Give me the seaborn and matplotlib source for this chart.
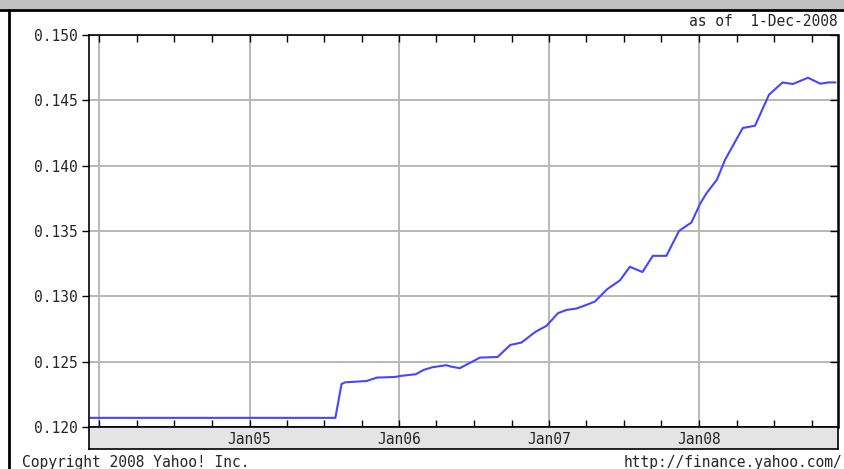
import matplotlib
matplotlib.use("Agg")
import matplotlib.pyplot as plt
import matplotlib.dates as mdates
import matplotlib.transforms as mtransforms
from matplotlib.lines import Line2D
from matplotlib.patches import Rectangle
import seaborn as sns
import pandas as pd
import numpy as np

# ---- data ----
dates = ["2003-12-07", "2005-07-29", "2005-08-13", "2005-08-22", "2005-10-13",
         "2005-11-07", "2005-12-22", "2006-01-04", "2006-02-10", "2006-03-01",
         "2006-03-22", "2006-04-25", "2006-05-07", "2006-05-28", "2006-07-16",
         "2006-08-28", "2006-09-28", "2006-10-25", "2006-11-28", "2006-12-25",
         "2007-01-22", "2007-02-12", "2007-03-07", "2007-03-22", "2007-04-22",
         "2007-05-22", "2007-06-22", "2007-07-16", "2007-08-16", "2007-09-10",
         "2007-10-13", "2007-11-13", "2007-12-13", "2008-01-04", "2008-01-19",
         "2008-02-13", "2008-03-04", "2008-03-22", "2008-04-16", "2008-05-16",
         "2008-06-19", "2008-07-22", "2008-08-16", "2008-09-22", "2008-10-22",
         "2008-11-10", "2008-11-28"]
values = [0.1207, 0.1207, 0.12329, 0.12342, 0.12352,
          0.12378, 0.12383, 0.12391, 0.12404, 0.12437,
          0.12457, 0.12473, 0.12462, 0.12450, 0.12531,
          0.12536, 0.12628, 0.12646, 0.12728, 0.12774,
          0.12871, 0.12896, 0.12906, 0.12922, 0.12960,
          0.13055, 0.13122, 0.13226, 0.13186, 0.13310,
          0.13310, 0.13501, 0.13565, 0.13713, 0.13790,
          0.13892, 0.14045, 0.14147, 0.14288, 0.14306,
          0.14543, 0.14637, 0.14625, 0.14673, 0.14627,
          0.14637, 0.14637]
y_ticks = [0.120, 0.125, 0.130, 0.135, 0.140, 0.145, 0.150]
year_labels = ["Jan05", "Jan06", "Jan07", "Jan08"]
year_label_dates = ["2005-01-01", "2006-01-01", "2007-01-01", "2008-01-01"]
x_start, x_end = "2003-12-07", "2008-12-04"
as_of_text = "as of  1-Dec-2008"
copyright_text = "Copyright 2008 Yahoo! Inc."
url_text = "http://finance.yahoo.com/"

df = pd.DataFrame({"date": pd.to_datetime(dates), "value": values})

sns.set_style("white")
plt.rcParams["font.family"] = ["DejaVu Sans Mono", "DejaVu Sans"]
FS = 10.5

W, H = 844, 469
fig = plt.figure(figsize=(W / 100, H / 100), dpi=100)
fig.patch.set_facecolor("white")

L, R, T, B = 89, 838, 35, 427
ax = fig.add_axes([L / W, 1 - B / H, (R - L) / W, (B - T) / H])
sns.lineplot(data=df, x="date", y="value", ax=ax, color="#4646ff", linewidth=1.5)

ax.set_xlim(pd.Timestamp(x_start), pd.Timestamp(x_end))
ax.set_ylim(0.120, 0.150)
ax.set_yticks(y_ticks)
ax.set_yticklabels([f"{v:.3f}" for v in y_ticks], fontsize=FS)
ax.xaxis.set_major_locator(mdates.YearLocator())
ax.xaxis.set_minor_locator(mdates.MonthLocator(bymonth=[4, 7, 10]))
ax.set_xticklabels([])
ax.set_xlabel("")
ax.set_ylabel("")
ax.grid(True, which="major", color="#b8b8b8", linewidth=1.4)
ax.set_axisbelow(True)
for s in ax.spines.values():
    s.set_color("black")
    s.set_linewidth(1.2)
ax.spines["right"].set_linewidth(1.8)
ax.tick_params(axis="y", which="major", left=True, right=True, direction="out",
               length=5, width=1, color="black", pad=3, labelsize=FS)
ax.tick_params(axis="x", which="both", bottom=True, top=True, direction="in",
               length=5, width=1, color="black", labelbottom=False)
# right ticks point inward
for t in ax.yaxis.get_major_ticks():
    t.tick2line.set_marker(0)
    t.tick2line.set_markersize(6)

# date label band
Bb = 449
axb = fig.add_axes([L / W, 1 - Bb / H, (R - L) / W, (Bb - B) / H], sharex=ax)
axb.set_facecolor("#e4e4e4")
axb.set_yticks([])
axb.tick_params(axis="x", which="both", bottom=False, top=False, labelbottom=False)
for s in axb.spines.values():
    s.set_color("black")
    s.set_linewidth(1.2)
trans = mtransforms.blended_transform_factory(axb.transData, axb.transAxes)
for lab, d in zip(year_labels, year_label_dates):
    axb.text(mdates.date2num(pd.Timestamp(d)), 0.45, lab, transform=trans,
             ha="center", va="center", fontsize=FS)

# frame decorations
fig.patches.append(Rectangle((0, 1 - 9 / H), 1, 9 / H, transform=fig.transFigure,
                             facecolor="#c0c0c0", edgecolor="none", zorder=0))
fig.lines.append(Line2D([0, 1], [1 - 10 / H, 1 - 10 / H], transform=fig.transFigure,
                        color="black", linewidth=2))
fig.lines.append(Line2D([8.5 / W, 8.5 / W], [0, 1 - 10 / H], transform=fig.transFigure,
                        color="black", linewidth=2))

fig.text(838 / W, 1 - 22 / H, as_of_text, ha="right", va="center", fontsize=FS)
fig.text(22 / W, 1 - 462 / H, copyright_text, ha="left", va="center", fontsize=FS)
fig.text(842 / W, 1 - 462 / H, url_text, ha="right", va="center", fontsize=FS)

fig.savefig("out.png", dpi=100)
